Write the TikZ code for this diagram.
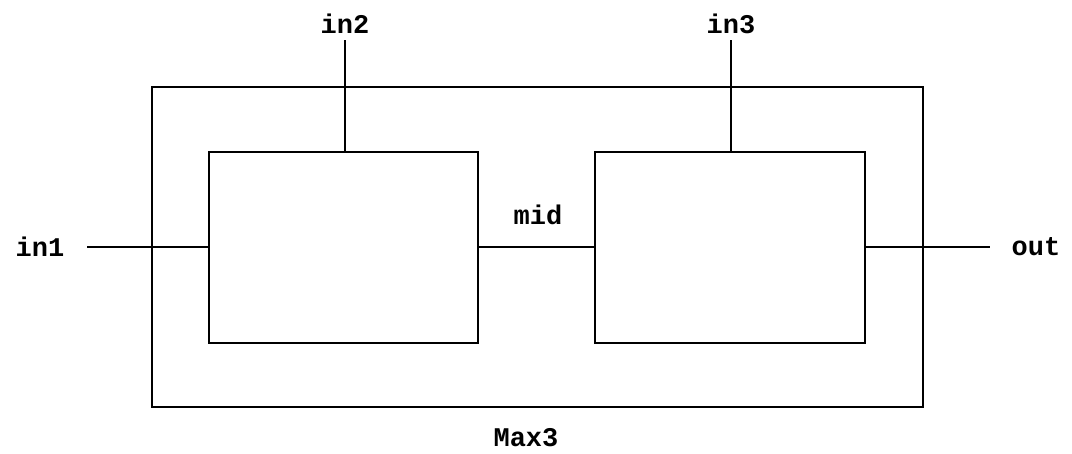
\documentclass[tikz,border=0pt]{standalone}
\usepackage{fontspec}
\setmonofont{Liberation Mono}
\begin{document}
\begin{tikzpicture}[x=1pt,y=-1pt,
  wire/.style={line width=2pt},
  lbl/.style={font=\fontsize{27}{30}\selectfont\ttfamily\bfseries,inner sep=0pt}]
\useasboundingbox (0,0) rectangle (1072,453);
\node[draw,line width=2pt,inner sep=0pt,minimum width=771pt,minimum height=320pt] (outer) at (537.5,247) {};
\node[draw,line width=2pt,inner sep=0pt,minimum width=269pt,minimum height=191pt] (lbox) at (343.5,247.5) {};
\node[draw,line width=2pt,inner sep=0pt,minimum width=270pt,minimum height=191pt] (rbox) at (730,247.5) {};
\coordinate (in2e) at (345,40);
\coordinate (in3e) at (731,40);
\coordinate (in1e) at (87,247);
\coordinate (oute) at (990,247);
\draw[wire] (in2e) -- (in2e |- lbox.north);
\draw[wire] (in3e) -- (in3e |- rbox.north);
\draw[wire] (in1e) -- (lbox.west |- in1e);
\draw[wire] (rbox.east |- oute) -- (oute);
\draw[wire] (lbox.east |- in1e) -- (rbox.west |- in1e);
\node[lbl] (tin2) at (345,24) {in2};
\node[lbl] (tin3) at (731,24) {in3};
\node[lbl] (tin1) at (40,247) {in1};
\node[lbl] (tout) at (1036,247) {out};
\node[lbl] (tmid) at (538,215) {mid};
\node[lbl] (tmax) at (526,438) {Max3};
\end{tikzpicture}
\end{document}
